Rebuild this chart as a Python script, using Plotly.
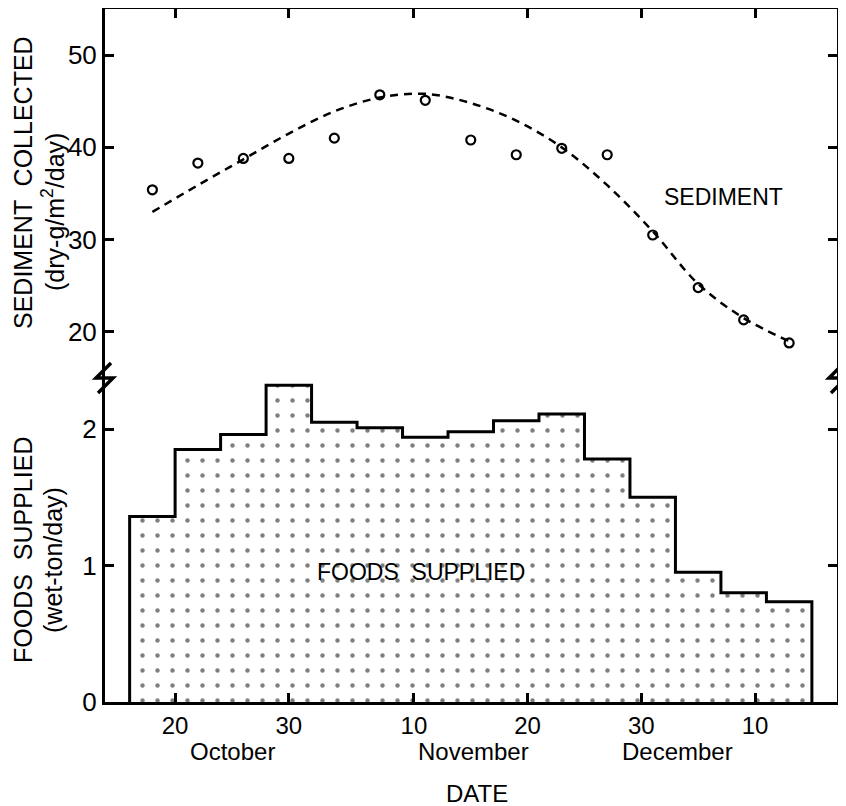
import plotly.graph_objects as go

# ---------------- data ----------------
sed_dates = ["1975-10-18", "1975-10-22", "1975-10-26", "1975-10-30", "1975-11-03",
             "1975-11-07", "1975-11-11", "1975-11-15", "1975-11-19", "1975-11-23",
             "1975-11-27", "1975-12-01", "1975-12-05", "1975-12-09", "1975-12-13"]
sed_values = [35.4, 38.3, 38.8, 38.8, 41.0, 45.7, 45.1, 40.8, 39.2, 39.9,
              39.2, 30.5, 24.8, 21.3, 18.8]
curve_values = [33.0, 35.9, 38.7, 41.5, 43.9, 45.4, 45.8, 44.8, 42.9, 40.0,
                35.9, 30.9, 25.2, 21.5, 19.0]

food_bin_starts = ["1975-10-16", "1975-10-20", "1975-10-24", "1975-10-28", "1975-11-01",
                   "1975-11-05", "1975-11-09", "1975-11-13", "1975-11-17", "1975-11-21",
                   "1975-11-25", "1975-11-29", "1975-12-03", "1975-12-07", "1975-12-11"]
food_bin_end = "1975-12-15"
food_values = [1.36, 1.85, 1.96, 2.32, 2.05, 2.01, 1.94, 1.98, 2.06, 2.11,
               1.78, 1.50, 0.95, 0.80, 0.735]

tick_dates = ["1975-10-20", "1975-10-30", "1975-11-10", "1975-11-20", "1975-11-30", "1975-12-10"]
tick_text = ["20", "30", "10", "20", "30", "10"]
months = ["October", "November", "December"]
month_pos = ["1975-10-25 02:00", "1975-11-15 06:00", "1975-12-03 05:00"]

FONT = "Liberation Sans, Arial, sans-serif"

# target geometry in screen pixels (page body has an 8px margin)
OFF = 8
SW, SH = 846, 806
PL, PR, PT, PB = 105, 837, 9, 702      # plot area edges on screen
W, H = SW - OFF, SH - OFF
ML, MT = PL - OFF, PT - OFF
MR, MB = SW - PR, SH - PB
PW, PH = PR - PL, PB - PT
BREAK_PX = 378
split = (PB - BREAK_PX) / PH


def px2paper(x, y):
    return (x - PL) / PW, (PB - y) / PH


fig = go.Figure()

# foods supplied (step histogram with stipple)
step_x = [food_bin_starts[0]] + food_bin_starts + [food_bin_end]
step_y = [0] + food_values + [0]
fig.add_trace(go.Scatter(
    x=step_x, y=step_y, mode="lines", line=dict(shape="hv", color="black", width=3),
    fill="tozeroy", fillcolor="white",
    fillpattern=dict(shape=".", fgcolor="black", bgcolor="white", size=15, solidity=0.07),
    xaxis="x", yaxis="y", showlegend=False, hoverinfo="skip"))

# sediment fitted dashed curve
fig.add_trace(go.Scatter(
    x=sed_dates, y=curve_values, mode="lines",
    line=dict(shape="spline", smoothing=1.0, color="black", width=2.5, dash="8px,6px"),
    xaxis="x2", yaxis="y2", showlegend=False))

# sediment points
fig.add_trace(go.Scatter(
    x=sed_dates, y=sed_values, mode="markers",
    marker=dict(symbol="circle-open", size=9, color="black", line=dict(width=2.2, color="black")),
    xaxis="x2", yaxis="y2", showlegend=False))

axis_common = dict(showline=True, linecolor="black", linewidth=3, ticks="inside",
                   ticklen=9, tickwidth=3, tickcolor="black", showgrid=False, zeroline=False)

xrange = ["1975-10-13 20:00", "1975-12-17 05:00"]

fig.update_layout(
    width=W, height=H, autosize=False,
    margin=dict(l=ML, r=MR, t=MT, b=MB, pad=0),
    paper_bgcolor="white", plot_bgcolor="white",
    font=dict(family=FONT, color="black"),
    xaxis=dict(type="date", range=xrange, tickvals=tick_dates, ticktext=tick_text,
               tickfont=dict(size=24, family=FONT), anchor="y", **axis_common),
    xaxis2=dict(type="date", range=xrange, tickvals=tick_dates, matches="x",
                showticklabels=False, side="top", anchor="y2", **axis_common),
    yaxis=dict(domain=[0, split], range=[0, 2.374], tickvals=[0, 1, 2],
               tickfont=dict(size=26, family=FONT), mirror="ticks", anchor="x", **axis_common),
    yaxis2=dict(domain=[split, 1], range=[15, 55], tickvals=[20, 30, 40, 50],
                tickfont=dict(size=26, family=FONT), mirror="ticks", anchor="x2", **axis_common),
)

ann = []
# axis titles
x1, y1 = px2paper(23, 183)
ann.append(dict(text="SEDIMENT  COLLECTED", x=x1, y=y1, xref="paper", yref="paper",
                textangle=-90, showarrow=False, font=dict(size=25), xanchor="center", yanchor="middle"))
x1, y1 = px2paper(53, 212)
ann.append(dict(text="(dry-g/m<sup>2</sup>/day)", x=x1, y=y1, xref="paper", yref="paper",
                textangle=-90, showarrow=False, font=dict(size=25), xanchor="center", yanchor="middle"))
x1, y1 = px2paper(23, 550)
ann.append(dict(text="FOODS  SUPPLIED", x=x1, y=y1, xref="paper", yref="paper",
                textangle=-90, showarrow=False, font=dict(size=25), xanchor="center", yanchor="middle"))
x1, y1 = px2paper(53, 560)
ann.append(dict(text="(wet-ton/day)", x=x1, y=y1, xref="paper", yref="paper",
                textangle=-90, showarrow=False, font=dict(size=25), xanchor="center", yanchor="middle"))
# in-plot labels
ann.append(dict(text="SEDIMENT", x="1975-12-07 05:00", y=34.6, xref="x2", yref="y2",
                showarrow=False, font=dict(size=23)))
ann.append(dict(text="FOODS  SUPPLIED", x="1975-11-10 14:00", y=0.95, xref="x", yref="y",
                showarrow=False, font=dict(size=23)))
# month labels
for m, p in zip(months, month_pos):
    ann.append(dict(text=m, x=p, y=0, xref="x", yref="paper", yshift=-49,
                    showarrow=False, font=dict(size=24), yanchor="middle"))
x1, _ = px2paper(477, 0)
ann.append(dict(text="DATE", x=x1, y=0, xref="paper", yref="paper", yshift=-91,
                showarrow=False, font=dict(size=24), yanchor="middle"))
fig.update_layout(annotations=ann)

# axis break marks
shapes = []
for ax_x in (PL - 1, PR):
    pts = [(ax_x + 7, BREAK_PX - 15), (ax_x - 8, BREAK_PX), (ax_x + 9, BREAK_PX), (ax_x - 6, BREAK_PX + 15)]
    pp = [px2paper(a, b) for a, b in pts]
    path = "M " + " L ".join(f"{a:.5f},{b:.5f}" for a, b in pp)
    shapes.append(dict(type="path", path=path, xref="paper", yref="paper",
                       line=dict(color="black", width=3.5)))
fig.update_layout(shapes=shapes)

fig.write_html("out.html")
